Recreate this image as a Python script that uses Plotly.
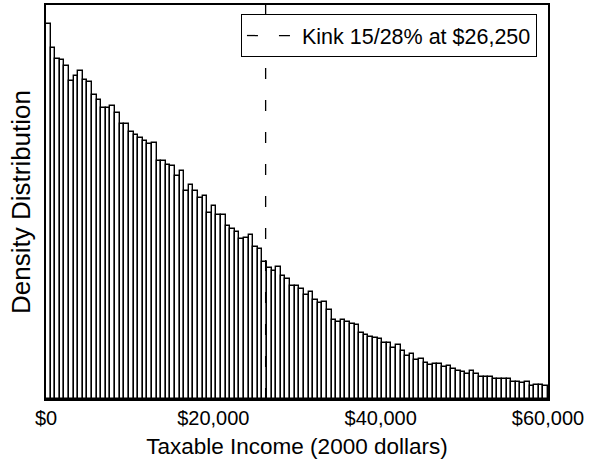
import plotly.graph_objects as go

# Histogram of taxable income (2000 dollars), 109 equal bins over $0-$60,000
bin_lo = 0
bin_hi = 60000
n_bins = 109
# relative density per bin (arbitrary units)
density = [
    3.768, 3.528, 3.418, 3.405, 3.347, 3.195, 3.245, 3.295, 3.203, 3.183,
    3.048, 3.000, 2.923, 2.920, 2.942, 2.873, 2.760, 2.762, 2.682, 2.655,
    2.618, 2.592, 2.558, 2.570, 2.385, 2.385, 2.350, 2.335, 2.240, 2.292,
    2.085, 2.152, 2.092, 2.015, 2.035, 1.868, 1.942, 1.843, 1.843, 1.735,
    1.710, 1.675, 1.605, 1.615, 1.642, 1.528, 1.505, 1.378, 1.318, 1.282,
    1.329, 1.232, 1.200, 1.133, 1.133, 1.100, 1.040, 1.070, 0.998, 0.968,
    0.978, 0.893, 0.792, 0.778, 0.792, 0.777, 0.757, 0.747, 0.658, 0.647,
    0.618, 0.612, 0.600, 0.560, 0.565, 0.515, 0.545, 0.485, 0.432, 0.452,
    0.388, 0.405, 0.362, 0.338, 0.355, 0.348, 0.322, 0.328, 0.298, 0.282,
    0.275, 0.252, 0.278, 0.248, 0.225, 0.218, 0.218, 0.198, 0.205, 0.202,
    0.202, 0.175, 0.172, 0.158, 0.172, 0.135, 0.145, 0.138, 0.135,
]
kink_value = 26250
kink_label = "Kink 15/28% at $26,250"
tick_vals = [0, 20000, 40000, 60000]
tick_text = ["$0", "$20,000", "$40,000", "$60,000"]
y_max = 3.955

bin_w = (bin_hi - bin_lo) / n_bins
centers = [bin_lo + (i + 0.5) * bin_w for i in range(n_bins)]

fig = go.Figure()
fig.add_trace(go.Bar(
    x=centers, y=density, width=bin_w,
    marker=dict(color="white", line=dict(color="black", width=1.4)),
    showlegend=False,
))
fig.add_trace(go.Scatter(
    x=[kink_value, kink_value], y=[0, y_max], mode="lines",
    line=dict(color="black", width=1.3, dash="11px,21px"),
    name=kink_label,
))

font_family = "Liberation Sans, Arial, sans-serif"
fig.update_layout(
    width=603, height=469,
    margin=dict(l=46, r=55, t=3, b=70),
    paper_bgcolor="white", plot_bgcolor="white",
    bargap=0,
    font=dict(family=font_family, color="black", size=20),
    showlegend=True,
    legend=dict(
        x=0.978, xanchor="right", y=0.977, yanchor="top",
        bgcolor="white", bordercolor="black", borderwidth=1,
        itemwidth=50,
        font=dict(size=21.5, family=font_family, color="black"),
    ),
    xaxis=dict(
        range=[bin_lo, bin_hi], tickvals=tick_vals, ticktext=tick_text,
        showgrid=False, zeroline=False, showline=True, mirror=True,
        linecolor="black", linewidth=1.5, ticks="",
        tickfont=dict(size=20),
        title=dict(text="Taxable Income (2000 dollars)", font=dict(size=22.5), standoff=10),
    ),
    yaxis=dict(
        range=[0, y_max], showticklabels=False, showgrid=False, zeroline=False,
        showline=True, mirror=True, linecolor="black", linewidth=1.5, ticks="",
        title=dict(text="Density Distribution", font=dict(size=26), standoff=6),
    ),
)

fig.write_html("out.html")
